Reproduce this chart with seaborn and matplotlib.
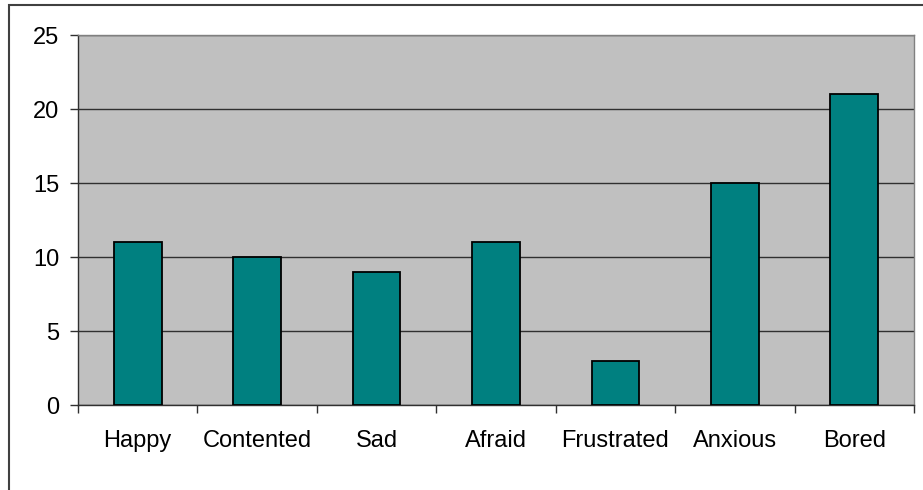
import matplotlib
matplotlib.use("Agg")
import matplotlib.pyplot as plt
from matplotlib.patches import Rectangle
from matplotlib.ticker import FixedLocator
import seaborn as sns
import pandas as pd

categories = ["Happy", "Contented", "Sad", "Afraid", "Frustrated", "Anxious", "Bored"]
counts = [11, 10, 9, 11, 3, 15, 21]
y_ticks = [0, 5, 10, 15, 20, 25]

df = pd.DataFrame({"emotion": categories, "count": counts})

sns.set_style("white")
plt.rcParams["font.family"] = ["Liberation Sans", "DejaVu Sans"]

W, H = 923, 490
fig = plt.figure(figsize=(W / 100, H / 100), dpi=100)
ax = fig.add_axes([78 / W, (H - 405) / H, (914 - 78) / W, (405 - 35) / H])

ax.set_facecolor("#C0C0C0")
sns.barplot(data=df, x="emotion", y="count", color="#008080", saturation=1,
            width=0.4, edgecolor="black", linewidth=1.3, ax=ax, zorder=3)

ax.set_ylim(0, 25)
ax.set_xlim(-0.5, len(categories) - 0.5)
ax.set_yticks(y_ticks)
ax.yaxis.grid(True, color="#303030", linewidth=1.0, zorder=1)
ax.set_axisbelow(True)

# category boundary ticks on the x axis
ax.xaxis.set_minor_locator(FixedLocator([i - 0.5 for i in range(len(categories) + 1)]))
ax.tick_params(axis="x", which="major", length=0, pad=18, labelsize=17, labelcolor="black")
ax.tick_params(axis="x", which="minor", length=5.5, width=1.0, color="#303030", bottom=True)
ax.tick_params(axis="y", which="major", length=5.5, width=1.0, color="#303030",
               pad=8, labelsize=17, labelcolor="black", left=True)

ax.set_xlabel("")
ax.set_ylabel("")

for side in ["top", "right"]:
    ax.spines[side].set_visible(True)
    ax.spines[side].set_color("#808080")
    ax.spines[side].set_linewidth(1.0)
for side in ["left", "bottom"]:
    ax.spines[side].set_visible(True)
    ax.spines[side].set_color("#303030")
    ax.spines[side].set_linewidth(1.0)

# chart area frame
fig.patches.append(Rectangle((9 / W, -0.02), 1.05, (H - 5) / H + 0.02,
                             transform=fig.transFigure, fill=False,
                             edgecolor="#404040", linewidth=1.5))

fig.savefig("out.png", dpi=100)
